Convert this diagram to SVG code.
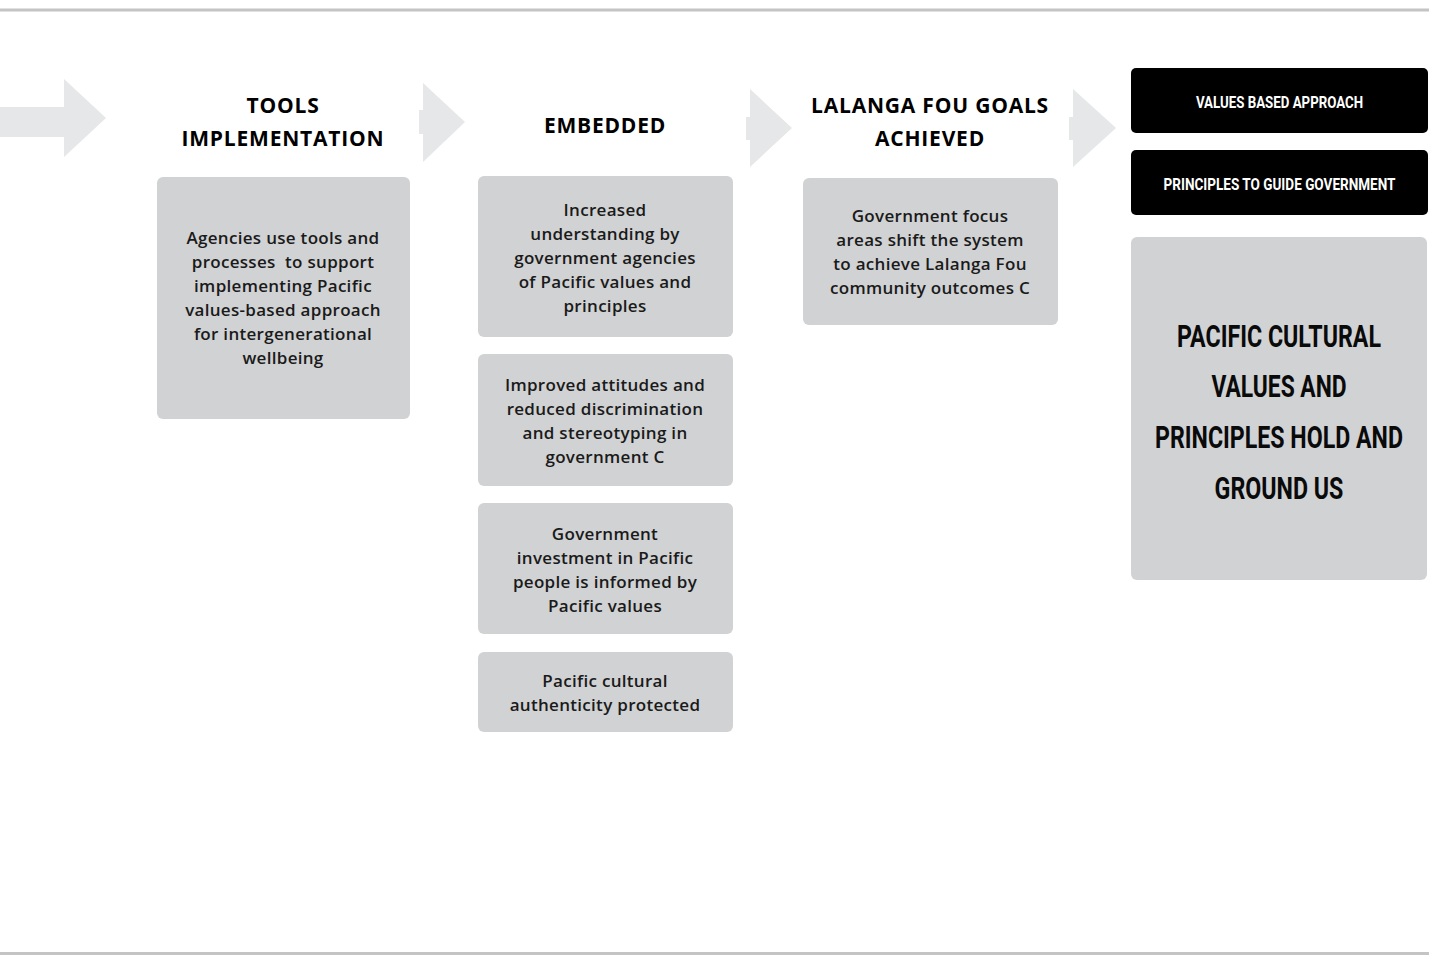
<svg xmlns="http://www.w3.org/2000/svg" width="1429" height="960" viewBox="0 0 1429 960">
<style>
.rule{stroke:#c4c4c4;stroke-width:3}
.arrow{fill:#e6e7e8}
.box{fill:#d1d2d4}
.dark{fill:#000}
.head{font-family:"Open Sans","Noto Sans",sans-serif;font-weight:700;font-size:21px;fill:#000;text-anchor:middle;letter-spacing:0.8px}
.body{font-family:"Open Sans","Noto Sans",sans-serif;font-weight:600;font-size:17px;fill:#1a1a1a;text-anchor:middle;letter-spacing:0.3px}
.cond{font-family:Roboto,"DejaVu Sans Condensed",sans-serif;font-weight:700;fill:#fff;text-anchor:middle;font-size:17px}
.big{font-family:Roboto,"DejaVu Sans Condensed",sans-serif;font-weight:700;fill:#0a0a0a;text-anchor:middle;font-size:31px}
</style>
<rect width="1429" height="960" fill="#fff"/>
<line class="rule" x1="0" y1="10" x2="1429" y2="10"/>
<line class="rule" x1="0" y1="953.5" x2="1429" y2="953.5"/>
<g id="connectors">
<polygon class="arrow" points="0,107 64,107 64,79 106,118 64,157 64,137 0,137"/>
<polygon class="arrow" points="419,110 423,110 423,83 465,122 423,162 423,134 419,134"/>
<polygon class="arrow" points="746,117 750,117 750,89 792,128 750,167 750,140 746,140"/>
<polygon class="arrow" points="1069,117 1073,117 1073,89 1116,128 1073,167 1073,140 1069,140"/>
</g>
<g id="heading-tools">
<text class="head" x="283" y="113">TOOLS</text>
<text class="head" x="283" y="146">IMPLEMENTATION</text>
</g>
<g id="heading-embedded">
<text class="head" x="605" y="133">EMBEDDED</text>
</g>
<g id="heading-lalanga">
<text class="head" x="930" y="113">LALANGA FOU GOALS</text>
<text class="head" x="930" y="146">ACHIEVED</text>
</g>
<g id="box-tools">
<rect class="box" x="157" y="177" width="253" height="242" rx="6"/>
<text class="body" x="283" y="244">Agencies use tools and</text>
<text class="body" x="283" y="268" xml:space="preserve">processes  to support</text>
<text class="body" x="283" y="292">implementing Pacific</text>
<text class="body" x="283" y="316">values-based approach</text>
<text class="body" x="283" y="340">for intergenerational</text>
<text class="body" x="283" y="364">wellbeing</text>
</g>
<g id="box-understanding">
<rect class="box" x="478" y="176" width="255" height="161" rx="6"/>
<text class="body" x="605" y="216">Increased</text>
<text class="body" x="605" y="240">understanding by</text>
<text class="body" x="605" y="264">government agencies</text>
<text class="body" x="605" y="288">of Pacific values and</text>
<text class="body" x="605" y="312">principles</text>
</g>
<g id="box-attitudes">
<rect class="box" x="478" y="354" width="255" height="132" rx="6"/>
<text class="body" x="605" y="391">Improved attitudes and</text>
<text class="body" x="605" y="415">reduced discrimination</text>
<text class="body" x="605" y="439">and stereotyping in</text>
<text class="body" x="605" y="463">government C</text>
</g>
<g id="box-investment">
<rect class="box" x="478" y="503" width="255" height="131" rx="6"/>
<text class="body" x="605" y="540">Government</text>
<text class="body" x="605" y="564">investment in Pacific</text>
<text class="body" x="605" y="588">people is informed by</text>
<text class="body" x="605" y="612">Pacific values</text>
</g>
<g id="box-authenticity">
<rect class="box" x="478" y="652" width="255" height="80" rx="6"/>
<text class="body" x="605" y="687">Pacific cultural</text>
<text class="body" x="605" y="711">authenticity protected</text>
</g>
<g id="box-lalanga">
<rect class="box" x="803" y="178" width="255" height="147" rx="6"/>
<text class="body" x="930" y="222">Government focus</text>
<text class="body" x="930" y="246">areas shift the system</text>
<text class="body" x="930" y="270">to achieve Lalanga Fou</text>
<text class="body" x="930" y="294">community outcomes C</text>
</g>
<g id="box-values-approach">
<rect class="dark" x="1131" y="68" width="297" height="65" rx="5"/>
<text class="cond" transform="translate(1279.5,108) scale(0.8,1)" textLength="209" lengthAdjust="spacingAndGlyphs">VALUES BASED APPROACH</text>
</g>
<g id="box-principles-guide">
<rect class="dark" x="1131" y="150" width="297" height="65" rx="5"/>
<text class="cond" transform="translate(1279.5,190) scale(0.8,1)" textLength="290" lengthAdjust="spacingAndGlyphs">PRINCIPLES TO GUIDE GOVERNMENT</text>
</g>
<g id="box-pacific-values">
<rect class="box" x="1131" y="237" width="296" height="343" rx="6"/>
<text class="big" transform="translate(1279,347) scale(0.8,1)" textLength="255" lengthAdjust="spacingAndGlyphs">PACIFIC CULTURAL</text>
<text class="big" transform="translate(1279,397) scale(0.8,1)" textLength="169" lengthAdjust="spacingAndGlyphs">VALUES AND</text>
<text class="big" transform="translate(1279,448) scale(0.8,1)" textLength="310" lengthAdjust="spacingAndGlyphs">PRINCIPLES HOLD AND</text>
<text class="big" transform="translate(1279,499) scale(0.8,1)" textLength="161" lengthAdjust="spacingAndGlyphs">GROUND US</text>
</g>
</svg>
